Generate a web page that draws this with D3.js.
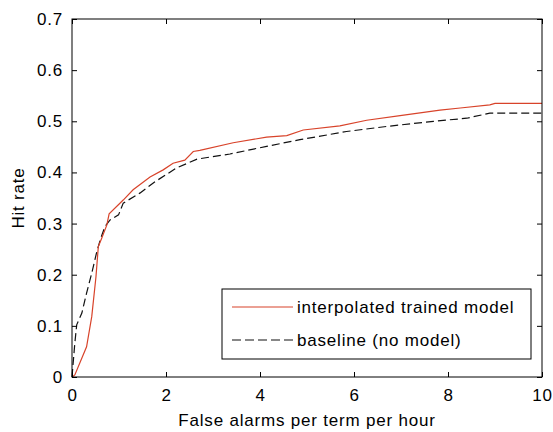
<!DOCTYPE html>
<html>
<head>
<meta charset="utf-8">
<script src="https://cdn.jsdelivr.net/npm/d3@7"></script>
<style>
  body { margin: 0; background: #fff; }
  text { font-family: "Liberation Sans", Arial, sans-serif; }
</style>
</head>
<body>
<div id="chart"></div>
<script>
// values
let xTicks = [0, 2, 4, 6, 8, 10];
let yTicks = [0, 0.1, 0.2, 0.3, 0.4, 0.5, 0.6, 0.7];

let trainedX = [0, 0.06, 0.31, 0.42, 0.51, 0.56, 0.63, 0.74, 0.79, 1.09, 1.3, 1.66, 1.94, 2.15, 2.4, 2.58, 2.72, 3.43, 4.14, 4.57, 4.92, 5.7, 6.27, 6.98, 7.83, 8.26, 8.89, 9.0, 10];
let trainedY = [0, 0.004, 0.059, 0.118, 0.196, 0.255, 0.271, 0.297, 0.319, 0.346, 0.366, 0.391, 0.405, 0.418, 0.424, 0.441, 0.443, 0.458, 0.469, 0.472, 0.483, 0.491, 0.502, 0.511, 0.522, 0.526, 0.532, 0.535, 0.535];

let baselineX = [0, 0.03, 0.06, 0.1, 0.21, 0.31, 0.42, 0.52, 0.6, 0.7, 0.81, 0.99, 1.09, 1.45, 1.77, 2.23, 2.66, 3.36, 4.14, 4.85, 5.84, 6.7, 7.69, 8.4, 8.89, 10];
let baselineY = [0, 0.033, 0.066, 0.102, 0.125, 0.164, 0.203, 0.242, 0.268, 0.294, 0.307, 0.317, 0.34, 0.36, 0.382, 0.409, 0.426, 0.436, 0.451, 0.464, 0.48, 0.49, 0.50, 0.506, 0.516, 0.516];

let seriesNames = ["interpolated trained model", "baseline (no model)"];

let width = 553, height = 432;
let margin = {left: 72, right: 11, top: 19, bottom: 55};
let fontSize = "17px", spacing = "0.8px";

let svg = d3.select("#chart").append("svg")
    .attr("width", width)
    .attr("height", height);

let x = d3.scaleLinear().domain([0, 10]).range([margin.left, width - margin.right]);
let y = d3.scaleLinear().domain([0, 0.7]).range([height - margin.bottom, margin.top]);

let tickLen = 5;

// lines
let line = d3.line()
    .x(function(d) { return x(d[0]); })
    .y(function(d) { return y(d[1]); });

let trained = trainedX.map(function(v, i) { return [v, trainedY[i]]; });
let baseline = baselineX.map(function(v, i) { return [v, baselineY[i]]; });

svg.append("path")
    .datum(baseline)
    .attr("d", line)
    .attr("fill", "none")
    .attr("stroke", "#111")
    .attr("stroke-width", 1.2)
    .attr("stroke-dasharray", "8,4");

svg.append("path")
    .datum(trained)
    .attr("d", line)
    .attr("fill", "none")
    .attr("stroke", "#d8432a")
    .attr("stroke-width", 1.2);

// axes, ticks pointing inward on all four sides
svg.append("g")
    .attr("transform", "translate(0," + y(0) + ")")
    .call(d3.axisBottom(x).tickValues(xTicks).tickSize(-tickLen).tickPadding(12).tickSizeOuter(0))
    .call(function(g) { g.select(".domain").remove(); });

svg.append("g")
    .attr("transform", "translate(0," + y(0.7) + ")")
    .call(d3.axisTop(x).tickValues(xTicks).tickSize(-tickLen).tickFormat("").tickSizeOuter(0))
    .call(function(g) { g.select(".domain").remove(); });

svg.append("g")
    .attr("transform", "translate(" + x(0) + ",0)")
    .call(d3.axisLeft(y).tickValues(yTicks).tickSize(-tickLen).tickPadding(9)
        .tickFormat(function(d) { return d === 0 ? "0" : d3.format(".1f")(d); }).tickSizeOuter(0))
    .call(function(g) { g.select(".domain").remove(); });

svg.append("g")
    .attr("transform", "translate(" + x(10) + ",0)")
    .call(d3.axisRight(y).tickValues(yTicks).tickSize(-tickLen).tickFormat("").tickSizeOuter(0))
    .call(function(g) { g.select(".domain").remove(); });

svg.selectAll(".tick line").attr("stroke", "#000");
svg.selectAll(".tick text")
    .attr("fill", "#000")
    .style("font-size", fontSize)
    .style("letter-spacing", spacing)
    .style("font-family", "'Liberation Sans', Arial, sans-serif");

svg.append("rect")
    .attr("x", x(0))
    .attr("y", y(0.7))
    .attr("width", x(10) - x(0))
    .attr("height", y(0) - y(0.7))
    .attr("fill", "none")
    .attr("stroke", "#000")
    .attr("stroke-width", 1);

// axis labels
svg.append("text")
    .attr("x", (x(0) + x(10)) / 2)
    .attr("y", 426)
    .attr("text-anchor", "middle")
    .style("font-size", fontSize)
    .style("letter-spacing", spacing)
    .text("False alarms per term per hour");

svg.append("text")
    .attr("transform", "translate(24," + ((y(0) + y(0.7)) / 2) + ") rotate(-90)")
    .attr("text-anchor", "middle")
    .style("font-size", fontSize)
    .style("letter-spacing", spacing)
    .text("Hit rate");

// legend
let legend = svg.append("g").attr("transform", "translate(222,289)");
legend.append("rect")
    .attr("width", 309)
    .attr("height", 70)
    .attr("fill", "#fff")
    .attr("stroke", "#000");

let legendStyles = [{stroke: "#d8432a", dash: null}, {stroke: "#111", dash: "9,4"}];
seriesNames.forEach(function(name, i) {
    let ly = 18 + i * 33;
    legend.append("line")
        .attr("x1", 10).attr("x2", 71)
        .attr("y1", ly).attr("y2", ly)
        .attr("stroke", legendStyles[i].stroke)
        .attr("stroke-width", 1.2)
        .attr("stroke-dasharray", legendStyles[i].dash);
    legend.append("text")
        .attr("x", 75)
        .attr("y", ly)
        .attr("dy", ".35em")
        .style("font-size", fontSize)
        .style("letter-spacing", spacing)
        .text(name);
});
</script>
</body>
</html>
